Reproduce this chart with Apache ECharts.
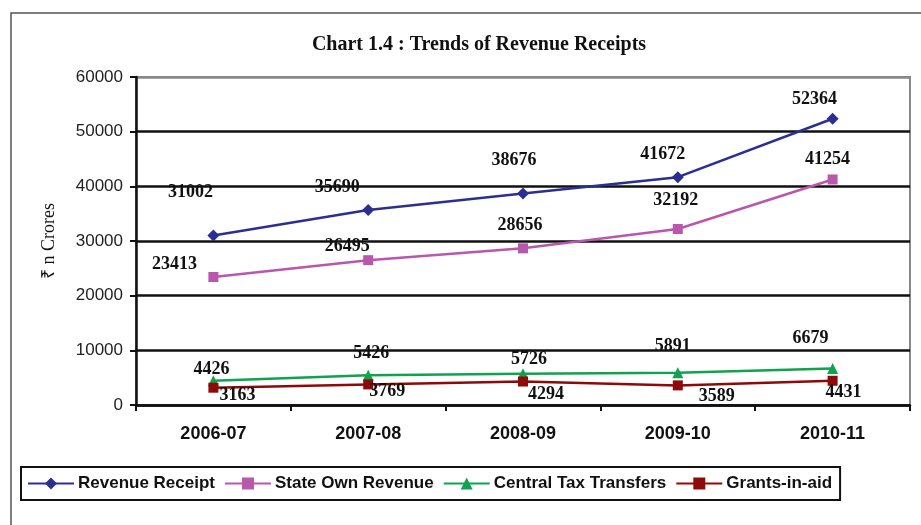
<!DOCTYPE html>
<html>
<head>
<meta charset="utf-8">
<script src="https://cdn.jsdelivr.net/npm/echarts@6/dist/echarts.min.js"></script>
<style>
  html, body { margin: 0; padding: 0; background: #fff; }
  #chart { width: 921px; height: 525px; }
</style>
</head>
<body>
<div id="chart"></div>
<script>
// data
var years = ['2006-07', '2007-08', '2008-09', '2009-10', '2010-11'];
var revenueReceipt = [31002, 35690, 38676, 41672, 52364];
var stateOwnRevenue = [23413, 26495, 28656, 32192, 41254];
var centralTaxTransfers = [4426, 5426, 5726, 5891, 6679];
var grantsInAid = [3163, 3769, 4294, 3589, 4431];
var yTicks = [0, 10000, 20000, 30000, 40000, 50000, 60000];

// label nudges (px) so the numbers sit where they do in the original
var offRevenue = [[-23, -43], [-31, -23], [-9, -33], [-15, -23], [-18, -19]];
var offState = [[-39, -13], [-21, -14], [-3, -23], [-2, -29], [-5, -20]];
var offCentral = [[-2, -11], [3, -22], [6, -14], [-5, -26], [-22, -30]];
var offGrants = [[24, 8], [19, 7], [23, 13], [39, 11], [11, 12]];

var serif = '"Liberation Serif", "Times New Roman", serif';
var sans = '"Liberation Sans", Arial, sans-serif';

function withLabels(values, offsets) {
    return values.map(function (v, i) {
        return {
            value: v,
            label: { offset: offsets[i] }
        };
    });
}

function lineSeries(name, values, offsets, color, symbol, size) {
    return {
        name: name,
        type: 'line',
        data: withLabels(values, offsets),
        symbol: symbol,
        symbolSize: size,
        lineStyle: { color: color, width: 2.5 },
        itemStyle: { color: color },
        label: {
            show: true,
            position: 'inside',
            color: '#111',
            fontFamily: serif,
            fontWeight: 'bold',
            fontSize: 18
        },
        emphasis: { disabled: true },
        animation: false
    };
}

var chart = echarts.init(document.getElementById('chart'));

chart.setOption({
    backgroundColor: '#fff',
    animation: false,
    title: {
        text: 'Chart 1.4 : Trends of Revenue Receipts',
        left: 474,
        textAlign: 'center',
        top: 30,
        textStyle: { fontFamily: serif, fontWeight: 'bold', fontSize: 20, color: '#111' }
    },
    graphic: [
        { // outer frame
            type: 'rect',
            shape: { x: 11, y: 13, width: 960, height: 600 },
            style: { fill: 'none', stroke: '#555', lineWidth: 1.5 },
            silent: true
        },
        { // plot frame
            type: 'rect',
            shape: { x: 136, y: 77, width: 774, height: 328 },
            style: { fill: 'none', stroke: '#888', lineWidth: 2 },
            silent: true,
            z: -1
        }
    ],
    grid: { left: 136, right: 11, top: 77, height: 328 },
    legend: {
        left: 21,
        top: 467,
        padding: [8, 8, 8, 6],
        itemWidth: 46,
        itemHeight: 15,
        itemGap: 9,
        borderColor: '#111',
        borderWidth: 2,
        textStyle: { fontFamily: sans, fontWeight: 'bold', fontSize: 17, color: '#111', padding: [0, 0, 0, -1] },
        data: ['Revenue Receipt', 'State Own Revenue', 'Central Tax Transfers', 'Grants-in-aid']
    },
    xAxis: {
        type: 'category',
        data: years,
        boundaryGap: true,
        axisLine: { lineStyle: { color: '#111', width: 2.5 } },
        axisTick: { show: true, length: 6, lineStyle: { color: '#111', width: 2 } },
        axisLabel: { margin: 20, fontFamily: sans, fontWeight: 'bold', fontSize: 18, color: '#111' }
    },
    yAxis: {
        type: 'value',
        min: yTicks[0],
        max: yTicks[yTicks.length - 1],
        interval: 10000,
        name: '₹ n Crores',
        nameLocation: 'middle',
        nameGap: 78,
        nameTextStyle: { fontFamily: serif, fontSize: 18, color: '#111' },
        axisLine: { show: true, lineStyle: { color: '#111', width: 2.5 } },
        axisTick: { show: true, length: 6, lineStyle: { color: '#111', width: 2 } },
        axisLabel: {
            margin: 13, fontFamily: sans, fontSize: 17, color: '#222',
            formatter: function (v) { return String(v); }
        },
        splitLine: {
            show: true,
            lineStyle: { color: ['#111', '#111', '#111', '#111', '#111', '#111', '#888'], width: 2.5 }
        }
    },
    series: [
        lineSeries('Revenue Receipt', revenueReceipt, offRevenue, '#2B3090', 'diamond', 12),
        lineSeries('State Own Revenue', stateOwnRevenue, offState, '#B957AC', 'rect', 10),
        lineSeries('Central Tax Transfers', centralTaxTransfers, offCentral, '#10A24E', 'triangle', 11),
        lineSeries('Grants-in-aid', grantsInAid, offGrants, '#8E0A0A', 'rect', 10)
    ]
});
</script>
</body>
</html>
